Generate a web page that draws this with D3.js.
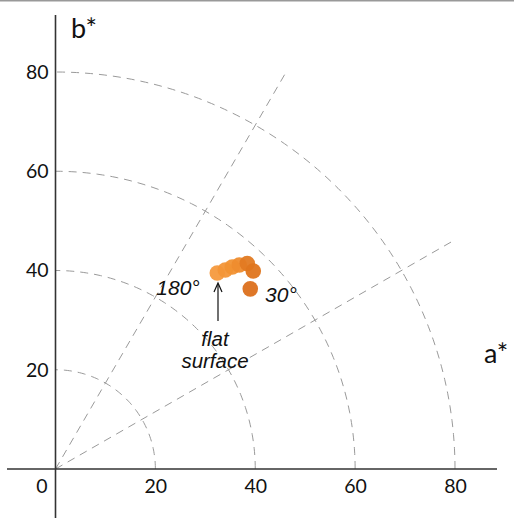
<!DOCTYPE html>
<html><head><meta charset="utf-8">
<script src="https://cdn.jsdelivr.net/npm/d3@7"></script>
<style>body{margin:0;background:#fff}svg{display:block}</style>
</head><body>
<svg id="c" width="514" height="520" font-family="Lato,'Open Sans',sans-serif"></svg>
<script>
const aTicks = [20, 40, 60, 80];
const bTicks = [20, 40, 60, 80];
const arcRadii = [20, 40, 60, 80];
const rayAngles = [30, 60];
const rayLength = 92;
const pointA = [32.4, 34.0, 35.4, 36.8, 38.4, 39.6, 39.0];
const pointB = [39.5, 40.1, 40.7, 41.1, 41.4, 39.9, 36.3];
const pointColor = ["#f59a3e", "#f39638", "#f19233", "#ee8c2e", "#e27a22", "#df751e", "#dc701c"];

const svg = d3.select("#c");
const x = d3.scaleLinear().domain([0, 80]).range([55.5, 455]);
const y = d3.scaleLinear().domain([0, 80]).range([469, 72]);
const tickFont = "Lato,'Open Sans',sans-serif";

// top border line
svg.append("line").attr("x1",0).attr("x2",514).attr("y1",0.5).attr("y2",0.5).attr("stroke","#999").attr("stroke-width",2);

const grid = svg.append("g").attr("fill","none").attr("stroke","#9a9a9a").attr("stroke-width",1).attr("stroke-dasharray","8,6");
arcRadii.forEach(r => {
  const pts = d3.range(0, 90.01, 1).map(t => [x(r*Math.cos(t*Math.PI/180)), y(r*Math.sin(t*Math.PI/180))]);
  grid.append("path").attr("d", d3.line()(pts));
});
rayAngles.forEach(t => {
  grid.append("line").attr("x1", x(0)).attr("y1", y(0))
    .attr("x2", x(rayLength*Math.cos(t*Math.PI/180))).attr("y2", y(rayLength*Math.sin(t*Math.PI/180)));
});

// axes
svg.append("line").attr("x1",55.5).attr("x2",55.5).attr("y1",15).attr("y2",518).attr("stroke","#333").attr("stroke-width",1.6);
svg.append("line").attr("x1",7).attr("x2",497).attr("y1",469).attr("y2",469).attr("stroke","#333").attr("stroke-width",1.6);

const xa = svg.append("g").attr("transform","translate(0,469)")
  .call(d3.axisBottom(x).tickValues(aTicks).tickSize(0).tickPadding(10));
xa.attr("font-family",tickFont).attr("font-size",19.5);
xa.select(".domain").remove();
xa.selectAll("text").attr("fill","#111");
const ya = svg.append("g").attr("transform","translate(55.5,0)")
  .call(d3.axisLeft(y).tickValues(bTicks).tickSize(0).tickPadding(7));
ya.attr("font-family",tickFont).attr("font-size",19.5);
ya.select(".domain").remove();
ya.selectAll("text").attr("fill","#111");
svg.append("text").attr("x",42).attr("y",493).attr("text-anchor","middle").attr("font-size",19.5).attr("fill","#111").text("0");

svg.append("text").attr("x",71).attr("y",38).attr("font-size",27).attr("fill","#111").text("b*");
svg.append("text").attr("x",484).attr("y",363).attr("font-size",27).attr("fill","#111").text("a*");

// points
svg.append("g").selectAll("circle").data(pointA).join("circle")
  .attr("cx",(d)=>x(d)).attr("cy",(d,i)=>y(pointB[i])).attr("r",7.8)
  .attr("fill",(d,i)=>pointColor[i]).attr("fill-opacity",0.95);

// annotations
const degFont = "'Liberation Sans',Arial,sans-serif";
const narrowFont = "'Liberation Sans Narrow','Arial Narrow','Liberation Sans',sans-serif";
svg.append("text").attr("x",178).attr("y",295).attr("text-anchor","middle").attr("font-size",21).attr("font-style","italic").attr("font-family",degFont).attr("fill","#111").text("180°");
svg.append("text").attr("x",281).attr("y",302).attr("text-anchor","middle").attr("font-size",21).attr("font-style","italic").attr("font-family",degFont).attr("fill","#111").text("30°");
svg.append("text").attr("x",215).attr("y",346).attr("text-anchor","middle").attr("font-size",20.5).attr("font-style","italic").attr("font-family",narrowFont).attr("fill","#111").text("flat");
svg.append("text").attr("x",215).attr("y",368).attr("text-anchor","middle").attr("font-size",20.5).attr("font-style","italic").attr("font-family",narrowFont).attr("fill","#111").text("surface");
svg.append("line").attr("x1",218).attr("y1",321).attr("x2",218).attr("y2",284).attr("stroke","#111").attr("stroke-width",1.2);
svg.append("path").attr("d","M214,292 L218,283 L222,292").attr("fill","none").attr("stroke","#111").attr("stroke-width",1.2);
</script>
</body></html>
